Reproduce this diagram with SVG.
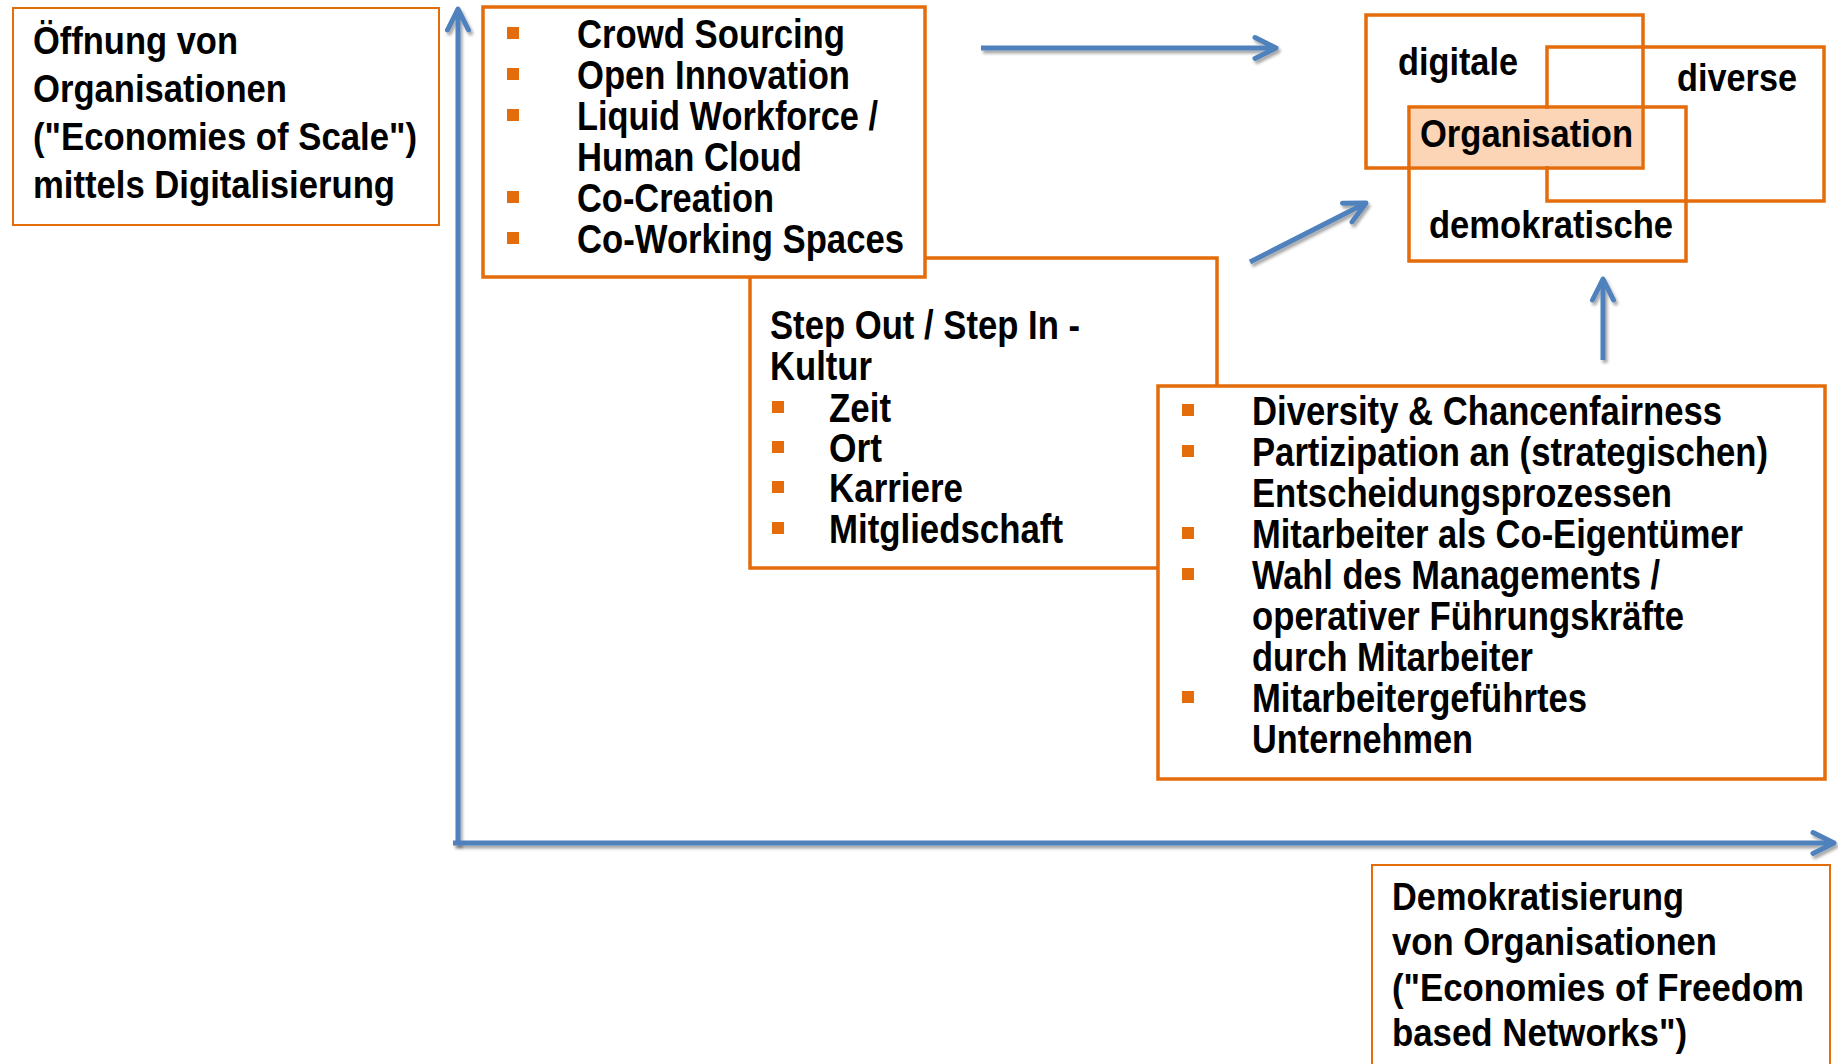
<svg xmlns="http://www.w3.org/2000/svg" width="1838" height="1064" viewBox="0 0 1838 1064">
  <style>
    .box { fill: #ffffff; stroke: #E46C0A; stroke-width: 3.5; }
    .thin { fill: #ffffff; stroke: #E46C0A; stroke-width: 2; }
    .ring { fill: none; stroke: #E46C0A; stroke-width: 3.5; }
    .bul { fill: #E46C0A; }
    text { font-family: "Liberation Sans Narrow", "Liberation Sans", Arial, sans-serif; font-weight: bold; fill: #000000; }
    .t1 { font-size: 38px; }
    .t2 { font-size: 40px; }
    .tv { font-size: 39px; }
    .arrow { fill: none; stroke: #4F81BD; stroke-width: 5; marker-end: url(#open); filter: url(#shadow); }
  </style>
  <defs>
    <marker id="open" markerUnits="userSpaceOnUse" markerWidth="34" markerHeight="34" viewBox="0 0 34 34" refX="28" refY="17" orient="auto" overflow="visible">
      <path d="M7,6.5 L28,17 L7,27.5" fill="none" stroke="#4F81BD" stroke-width="5" stroke-linecap="round" stroke-linejoin="round"/>
    </marker>
    <filter id="shadow" filterUnits="userSpaceOnUse" x="0" y="0" width="1838" height="1064">
      <feDropShadow dx="2" dy="3" stdDeviation="1.8" flood-color="#000000" flood-opacity="0.35"/>
    </filter>
  </defs>

  <rect width="1838" height="1064" fill="#ffffff"/>

  <!-- vertical axis label -->
  <g id="axis-y-label">
    <rect class="thin" x="13" y="8" width="426" height="217"/>
    <text class="t1" x="33" y="54" textLength="205" lengthAdjust="spacingAndGlyphs">Öffnung von</text>
    <text class="t1" x="33" y="102" textLength="254" lengthAdjust="spacingAndGlyphs">Organisationen</text>
    <text class="t1" x="33" y="150" textLength="384" lengthAdjust="spacingAndGlyphs">("Economies of Scale")</text>
    <text class="t1" x="33" y="198" textLength="362" lengthAdjust="spacingAndGlyphs">mittels Digitalisierung</text>
  </g>

  <!-- step out / step in culture (partly behind the two neighbouring boxes) -->
  <g id="step-culture">
    <rect class="box" x="750" y="258" width="467" height="310"/>
    <text class="t2" x="770" y="339" textLength="310" lengthAdjust="spacingAndGlyphs">Step Out / Step In -</text>
    <text class="t2" x="770" y="380" textLength="102" lengthAdjust="spacingAndGlyphs">Kultur</text>
    <rect class="bul" x="772" y="401" width="12" height="12"/>
    <text class="t2" x="829" y="422" textLength="62" lengthAdjust="spacingAndGlyphs">Zeit</text>
    <rect class="bul" x="772" y="441" width="12" height="12"/>
    <text class="t2" x="829" y="462" textLength="53" lengthAdjust="spacingAndGlyphs">Ort</text>
    <rect class="bul" x="772" y="481" width="12" height="12"/>
    <text class="t2" x="829" y="502" textLength="134" lengthAdjust="spacingAndGlyphs">Karriere</text>
    <rect class="bul" x="772" y="522" width="12" height="12"/>
    <text class="t2" x="829" y="543" textLength="234" lengthAdjust="spacingAndGlyphs">Mitgliedschaft</text>
  </g>

  <!-- opening measures -->
  <g id="opening-measures">
    <rect class="box" x="483" y="7" width="442" height="270"/>
    <rect class="bul" x="507" y="27" width="12" height="12"/>
    <text class="t2" x="577" y="48" textLength="268" lengthAdjust="spacingAndGlyphs">Crowd Sourcing</text>
    <rect class="bul" x="507" y="68" width="12" height="12"/>
    <text class="t2" x="577" y="89" textLength="273" lengthAdjust="spacingAndGlyphs">Open Innovation</text>
    <rect class="bul" x="507" y="109" width="12" height="12"/>
    <text class="t2" x="577" y="130" textLength="301" lengthAdjust="spacingAndGlyphs">Liquid Workforce /</text>
    <text class="t2" x="577" y="171" textLength="225" lengthAdjust="spacingAndGlyphs">Human Cloud</text>
    <rect class="bul" x="507" y="191" width="12" height="12"/>
    <text class="t2" x="577" y="212" textLength="197" lengthAdjust="spacingAndGlyphs">Co-Creation</text>
    <rect class="bul" x="507" y="232" width="12" height="12"/>
    <text class="t2" x="577" y="253" textLength="327" lengthAdjust="spacingAndGlyphs">Co-Working Spaces</text>
  </g>

  <!-- democratisation measures -->
  <g id="democracy-measures">
    <rect class="box" x="1158" y="386" width="667" height="393"/>
    <rect class="bul" x="1182" y="404" width="12" height="12"/>
    <text class="t2" x="1252" y="425" textLength="470" lengthAdjust="spacingAndGlyphs">Diversity &amp; Chancenfairness</text>
    <rect class="bul" x="1182" y="445" width="12" height="12"/>
    <text class="t2" x="1252" y="466" textLength="516" lengthAdjust="spacingAndGlyphs">Partizipation an (strategischen)</text>
    <text class="t2" x="1252" y="507" textLength="420" lengthAdjust="spacingAndGlyphs">Entscheidungsprozessen</text>
    <rect class="bul" x="1182" y="527" width="12" height="12"/>
    <text class="t2" x="1252" y="548" textLength="491" lengthAdjust="spacingAndGlyphs">Mitarbeiter als Co-Eigentümer</text>
    <rect class="bul" x="1182" y="568" width="12" height="12"/>
    <text class="t2" x="1252" y="589" textLength="408" lengthAdjust="spacingAndGlyphs">Wahl des Managements /</text>
    <text class="t2" x="1252" y="630" textLength="432" lengthAdjust="spacingAndGlyphs">operativer Führungskräfte</text>
    <text class="t2" x="1252" y="671" textLength="281" lengthAdjust="spacingAndGlyphs">durch Mitarbeiter</text>
    <rect class="bul" x="1182" y="691" width="12" height="12"/>
    <text class="t2" x="1252" y="712" textLength="335" lengthAdjust="spacingAndGlyphs">Mitarbeitergeführtes</text>
    <text class="t2" x="1252" y="753" textLength="221" lengthAdjust="spacingAndGlyphs">Unternehmen</text>
  </g>

  <!-- overlapping organisation sets -->
  <g id="organisation-venn">
    <rect class="ring" x="1366" y="15" width="277" height="153"/>
    <rect class="ring" x="1547" y="47" width="277" height="154"/>
    <rect class="ring" x="1409" y="107" width="277" height="154"/>
    <rect x="1411" y="109" width="230" height="57" fill="#FBD5B5"/>
    <text class="tv" x="1398" y="75" textLength="120" lengthAdjust="spacingAndGlyphs">digitale</text>
    <text class="tv" x="1677" y="91" textLength="120" lengthAdjust="spacingAndGlyphs">diverse</text>
    <text class="tv" x="1420" y="147" textLength="213" lengthAdjust="spacingAndGlyphs">Organisation</text>
    <text class="tv" x="1429" y="238" textLength="244" lengthAdjust="spacingAndGlyphs">demokratische</text>
  </g>

  <!-- horizontal axis label -->
  <g id="axis-x-label">
    <path class="thin" d="M1372,1066 V865 H1830 V1066"/>
    <text class="t1" x="1392" y="910" textLength="292" lengthAdjust="spacingAndGlyphs">Demokratisierung</text>
    <text class="t1" x="1392" y="955" textLength="325" lengthAdjust="spacingAndGlyphs">von Organisationen</text>
    <text class="t1" x="1392" y="1001" textLength="412" lengthAdjust="spacingAndGlyphs">("Economies of Freedom</text>
    <text class="t1" x="1392" y="1046" textLength="295" lengthAdjust="spacingAndGlyphs">based Networks")</text>
  </g>

  <!-- axes and arrows -->
  <g id="connectors">
    <line class="arrow" x1="458" y1="845" x2="458" y2="9"/>
    <line class="arrow" x1="453" y1="843" x2="1834" y2="843"/>
    <line class="arrow" x1="981" y1="48" x2="1276" y2="48"/>
    <line class="arrow" x1="1250" y1="262" x2="1366" y2="203"/>
    <line class="arrow" x1="1603" y1="360" x2="1603" y2="279"/>
  </g>
</svg>
